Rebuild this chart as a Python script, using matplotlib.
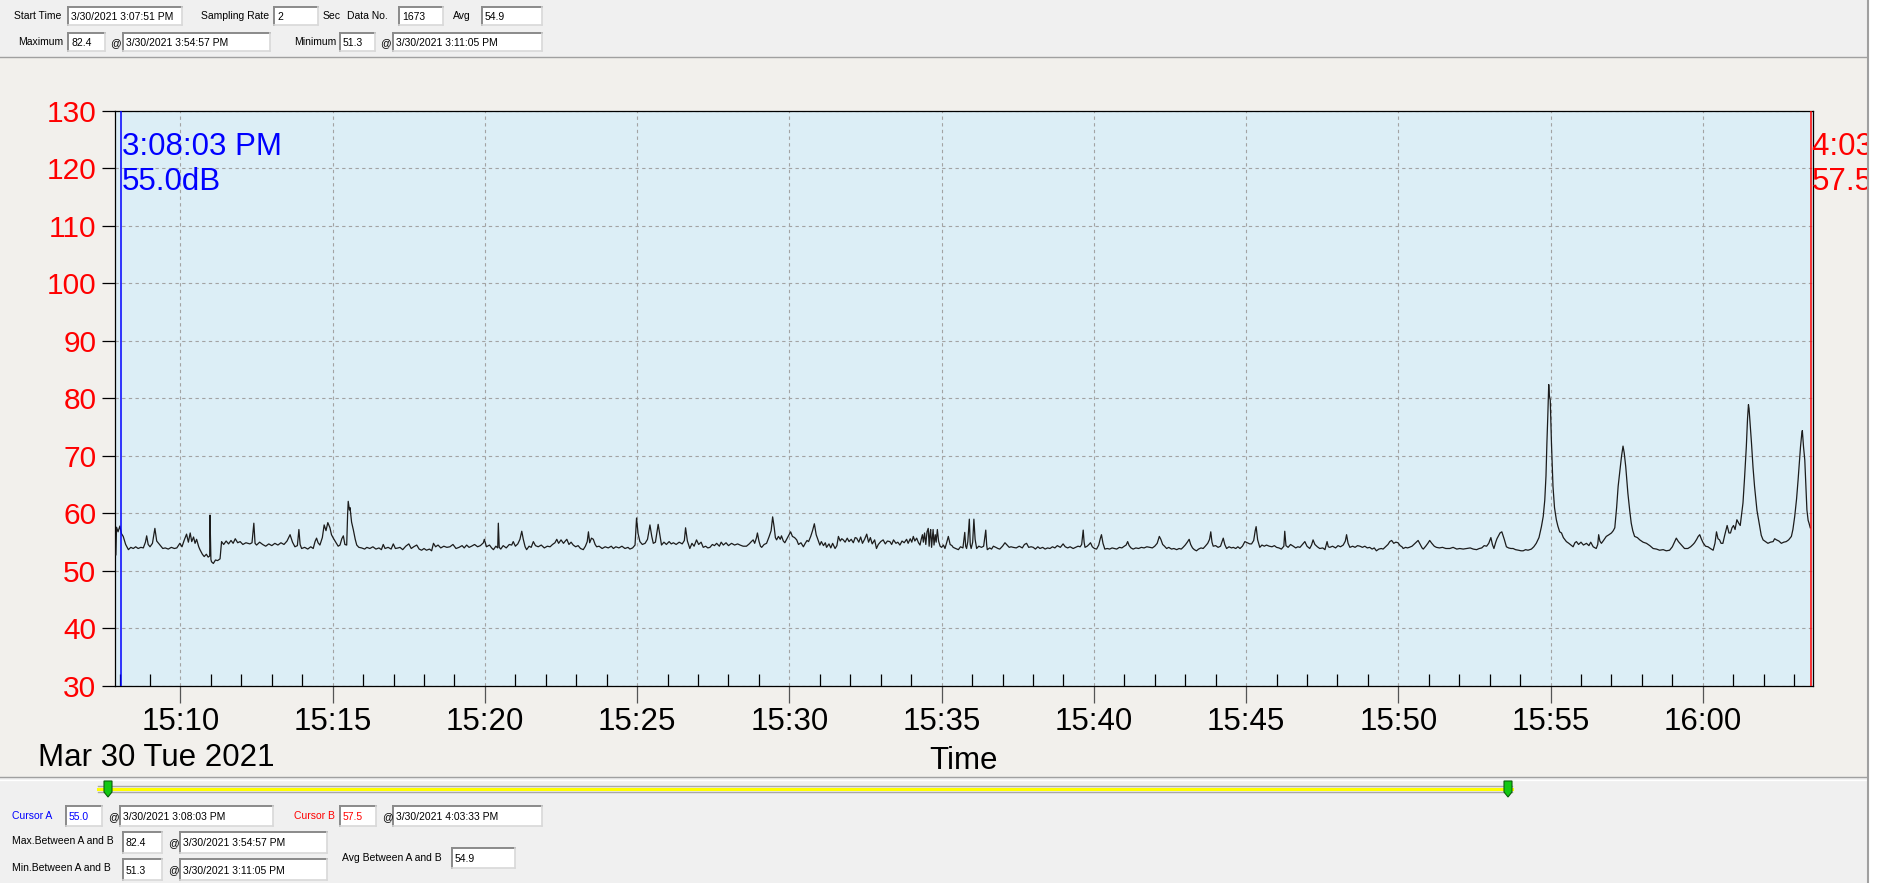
import matplotlib
matplotlib.use("Agg")
import matplotlib.pyplot as plt
from matplotlib.patches import Rectangle, Polygon
from matplotlib.lines import Line2D

plt.rcParams['font.family'] = ['Liberation Sans', 'DejaVu Sans']

W, H = 1879, 883

# sound level trace: (minutes after 15:00, dB)
seg_1508 = [
    (7.88, 52.8), (7.90, 57.6), (7.95, 56.8), (8.01, 57.8), (8.06, 56.5), (8.12, 56.0),
    (8.20, 54.6), (8.29, 53.7), (8.37, 54.1), (8.45, 53.9), (8.53, 54.2), (8.61, 53.9),
    (8.70, 54.1), (8.78, 54.0), (8.85, 55.0), (8.89, 56.1), (8.94, 54.6), (9.00, 54.2),
    (9.08, 54.8), (9.16, 57.4), (9.22, 55.2), (9.33, 54.5), (9.42, 53.9), (9.50, 54.0),
    (9.60, 53.8), (9.70, 54.1), (9.80, 53.9), (9.88, 54.0), (9.98, 54.8), (10.05, 54.2),
    (10.12, 55.3), (10.20, 56.4), (10.26, 55.0), (10.32, 56.6), (10.37, 55.1), (10.43, 55.9),
    (10.48, 54.8), (10.53, 55.5), (10.60, 54.2), (10.64, 53.7), (10.72, 52.9), (10.78, 52.5),
    (10.85, 52.9), (10.91, 52.4), (10.96, 52.6), (10.97, 59.7), (11.00, 52.0), (11.02, 51.6),
    (11.08, 51.3), (11.15, 51.9), (11.22, 51.8), (11.30, 52.1), (11.35, 55.1), (11.42, 54.6),
    (11.50, 55.2), (11.58, 54.7), (11.66, 55.3), (11.73, 54.8), (11.80, 55.6), (11.88, 54.9),
    (11.96, 55.1), (12.05, 54.6), (12.15, 54.9), (12.28, 54.7), (12.35, 54.9), (12.41, 58.3),
    (12.45, 54.8), (12.50, 54.5), (12.60, 55.0), (12.70, 54.6), (12.80, 54.3), (12.90, 54.7),
    (13.00, 54.4), (13.10, 54.8), (13.20, 54.5), (13.30, 54.9), (13.40, 54.6), (13.50, 55.2),
    (13.60, 56.3), (13.68, 55.0), (13.76, 54.2), (13.84, 54.4), (13.89, 57.2), (13.93, 54.6),
    (13.98, 53.9), (14.08, 54.1), (14.18, 53.8), (14.28, 54.2), (14.36, 53.9), (14.42, 55.1),
    (14.47, 55.7), (14.52, 54.9), (14.58, 54.5), (14.66, 55.8), (14.72, 58.0), (14.78, 57.0),
    (14.84, 58.4), (14.91, 57.5), (14.96, 56.3), (15.02, 55.7), (15.10, 55.0), (15.18, 54.3),
    (15.24, 54.5), (15.30, 55.6), (15.35, 56.1), (15.40, 54.6), (15.46, 54.5), (15.49, 59.8),
    (15.51, 62.1), (15.55, 60.6), (15.57, 61.0), (15.62, 58.5), (15.68, 57.1), (15.74, 55.5),
    (15.79, 54.5), (15.86, 54.1),
]
seg_1516 = [
    (15.95, 54.0), (16.05, 53.8), (16.12, 54.1), (16.22, 53.9), (16.32, 54.2), (16.42, 53.8),
    (16.52, 54.0), (16.60, 53.7), (16.66, 54.6), (16.72, 53.9), (16.82, 54.1), (16.92, 53.8),
    (16.99, 54.7), (17.06, 53.9), (17.15, 54.0), (17.21, 54.1), (17.30, 53.7), (17.40, 54.3),
    (17.50, 54.7), (17.58, 53.9), (17.66, 54.2), (17.76, 54.5), (17.84, 53.8), (17.92, 53.6),
    (18.00, 53.9), (18.08, 53.6), (18.18, 53.8), (18.25, 53.5), (18.31, 54.8), (18.38, 54.2),
    (18.46, 54.5), (18.55, 54.0), (18.65, 54.3), (18.75, 54.1), (18.85, 54.2), (18.95, 54.6),
    (19.05, 53.9), (19.15, 54.1), (19.25, 54.4), (19.32, 54.0), (19.40, 54.5), (19.48, 54.1),
    (19.56, 54.3), (19.66, 54.6), (19.76, 54.2), (19.85, 54.4), (19.95, 54.9), (19.98, 55.5),
    (20.05, 54.2), (20.15, 54.5), (20.22, 54.0), (20.28, 53.7), (20.36, 54.3), (20.42, 54.0),
    (20.44, 58.3), (20.47, 54.1), (20.52, 53.8), (20.60, 54.4), (20.70, 54.0), (20.80, 54.6),
    (20.88, 54.5), (20.93, 55.1), (21.00, 54.3), (21.08, 54.7), (21.15, 55.5), (21.21, 56.9),
    (21.26, 55.5), (21.32, 54.2), (21.37, 53.7), (21.45, 54.3), (21.52, 54.1), (21.59, 55.1),
    (21.66, 54.4), (21.75, 54.2), (21.85, 54.5), (21.95, 54.0), (22.05, 54.3), (22.14, 54.2),
    (22.22, 54.6), (22.30, 54.9), (22.36, 55.5), (22.42, 54.8), (22.50, 55.4), (22.58, 54.8),
    (22.64, 55.2), (22.69, 55.5), (22.76, 54.6), (22.83, 55.0), (22.90, 54.5), (22.98, 54.2),
    (23.06, 54.4), (23.14, 53.9), (23.23, 53.7), (23.30, 54.3), (23.36, 55.1), (23.40, 56.8),
    (23.44, 54.9), (23.50, 55.7), (23.56, 55.5),
]
seg_1524 = [
    (23.62, 54.6), (23.67, 54.2), (23.75, 54.3), (23.85, 53.9), (23.95, 54.2), (24.05, 54.0),
    (24.15, 54.3), (24.22, 53.9), (24.30, 54.2), (24.40, 54.0), (24.50, 54.3), (24.60, 53.9),
    (24.70, 54.1), (24.76, 53.8), (24.85, 54.0), (24.93, 54.5), (24.98, 59.2), (25.03, 56.5),
    (25.09, 55.1), (25.17, 54.6), (25.26, 54.8), (25.34, 55.5), (25.42, 58.0), (25.48, 56.0),
    (25.53, 54.8), (25.60, 55.0), (25.69, 58.1), (25.75, 56.2), (25.80, 54.5), (25.88, 55.0),
    (25.96, 54.6), (26.05, 55.1), (26.12, 54.7), (26.19, 54.9), (26.28, 54.6), (26.38, 55.0),
    (26.48, 54.7), (26.55, 55.3), (26.59, 57.5), (26.65, 55.2), (26.73, 53.9), (26.80, 54.8),
    (26.87, 54.3), (26.95, 55.4), (27.02, 54.6), (27.10, 55.0), (27.17, 54.1), (27.25, 54.3),
    (27.32, 54.0), (27.39, 54.1), (27.47, 54.6), (27.54, 54.4), (27.61, 54.8), (27.70, 54.3),
    (27.76, 55.0), (27.83, 54.5), (27.92, 54.9), (28.00, 54.4), (28.10, 54.8), (28.20, 54.5),
    (28.30, 54.7), (28.38, 54.5), (28.48, 54.3), (28.59, 54.3), (28.68, 54.7), (28.75, 55.1),
    (28.81, 55.4), (28.86, 54.8), (28.92, 55.8), (28.95, 56.6), (29.00, 55.2), (29.05, 54.3),
    (29.09, 54.1), (29.17, 54.6), (29.25, 54.8), (29.33, 55.9), (29.40, 57.0), (29.45, 59.4),
    (29.50, 57.6), (29.54, 55.8), (29.58, 55.4), (29.64, 56.0), (29.70, 55.5), (29.74, 56.1),
    (29.80, 55.2), (29.85, 54.9), (29.92, 55.6), (29.98, 56.2), (30.04, 56.8), (30.10, 56.0),
    (30.17, 55.8), (30.24, 55.4), (30.30, 54.6), (30.38, 54.9), (30.46, 54.2), (30.52, 54.8),
    (30.58, 55.3), (30.63, 55.1), (30.70, 56.0), (30.76, 57.0), (30.82, 58.2), (30.88, 56.3),
    (30.94, 55.4), (31.00, 54.5), (31.05, 55.1), (31.12, 54.4), (31.18, 54.9), (31.22, 54.1),
    (31.30, 54.7), (31.36, 54.0), (31.42, 54.8), (31.50, 53.9), (31.56, 54.4), (31.61, 56.0),
    (31.67, 55.2), (31.72, 55.6), (31.77, 55.4), (31.83, 55.0), (31.90, 55.7), (31.96, 55.1),
    (32.03, 55.5), (32.10, 54.9), (32.16, 55.8), (32.21, 55.7), (32.28, 55.0), (32.34, 55.9),
    (32.40, 54.8), (32.47, 55.5), (32.54, 56.4), (32.60, 55.0), (32.66, 55.8), (32.72, 54.7),
    (32.80, 55.4), (32.86, 53.9), (32.92, 54.6), (33.00, 55.1), (33.08, 55.4), (33.15, 54.7),
    (33.22, 55.2), (33.30, 55.1), (33.36, 54.6), (33.42, 55.4), (33.50, 54.8), (33.56, 55.0),
    (33.63, 54.5), (33.70, 55.2), (33.77, 54.9), (33.85, 55.5), (33.90, 54.8),
]
seg_1534 = [
    (33.97, 55.6), (34.02, 55.0), (34.07, 56.0), (34.12, 55.2), (34.18, 55.7), (34.24, 54.9),
    (34.29, 54.5), (34.33, 55.5), (34.37, 56.3), (34.40, 55.0), (34.44, 56.6), (34.48, 54.6),
    (34.52, 56.8), (34.56, 57.4), (34.59, 54.3), (34.62, 56.5), (34.64, 57.2), (34.67, 54.1),
    (34.70, 56.0), (34.72, 57.2), (34.75, 54.5), (34.79, 56.3), (34.82, 55.0), (34.86, 57.2),
    (34.90, 55.2), (34.95, 54.3), (35.00, 54.1), (35.06, 54.5), (35.11, 53.9), (35.17, 55.0),
    (35.22, 56.0), (35.28, 54.6), (35.34, 54.4), (35.38, 54.1), (35.46, 53.9), (35.55, 53.7),
    (35.62, 54.2), (35.70, 54.0), (35.76, 56.7), (35.79, 54.3), (35.82, 53.9), (35.86, 55.1),
    (35.91, 59.0), (35.94, 54.6), (35.97, 53.9), (36.02, 55.0), (36.06, 59.0), (36.10, 55.5),
    (36.15, 53.9), (36.22, 54.3), (36.31, 54.1), (36.38, 54.3), (36.45, 57.1), (36.48, 54.5),
    (36.50, 53.7), (36.58, 54.0), (36.64, 53.8), (36.70, 54.3), (36.78, 54.1), (36.85, 53.9),
    (36.91, 53.8), (37.00, 54.3), (37.08, 54.9), (37.15, 54.5), (37.22, 54.1), (37.28, 54.2),
    (37.35, 54.1), (37.45, 54.0), (37.55, 54.3), (37.65, 54.0), (37.72, 54.6), (37.79, 54.8),
    (37.86, 54.1), (37.94, 54.2), (38.01, 54.1), (38.08, 53.8), (38.16, 54.2), (38.23, 53.9),
    (38.32, 54.1), (38.40, 53.8), (38.48, 54.0), (38.56, 53.9), (38.64, 54.2), (38.72, 54.0),
    (38.80, 54.4), (38.90, 54.1), (38.99, 54.7), (39.06, 54.2), (39.14, 54.0), (39.22, 54.2),
    (39.32, 53.9), (39.40, 54.1), (39.48, 54.3), (39.55, 54.2), (39.60, 54.6), (39.65, 57.1),
    (39.68, 55.0), (39.71, 54.1), (39.78, 54.3), (39.84, 54.6), (39.89, 54.9), (39.95, 54.2),
    (40.02, 53.9), (40.09, 53.8), (40.16, 54.5), (40.21, 55.6), (40.25, 56.3), (40.30, 54.8),
    (40.36, 53.8), (40.44, 53.9), (40.52, 53.8), (40.60, 54.0), (40.68, 53.9), (40.75, 53.8),
    (40.84, 54.1), (40.92, 54.0), (41.00, 54.3), (41.06, 54.5), (41.11, 55.1), (41.16, 54.4),
    (41.22, 54.0), (41.29, 53.8), (41.38, 54.0), (41.47, 53.9), (41.56, 54.1), (41.65, 54.0),
    (41.74, 54.2), (41.84, 54.1), (41.92, 54.0), (42.00, 54.3), (42.08, 54.8), (42.15, 56.0),
    (42.20, 55.5), (42.26, 54.6), (42.32, 54.3), (42.39, 53.9), (42.46, 54.1), (42.55, 53.8),
    (42.63, 53.9), (42.72, 53.7), (42.80, 53.9), (42.87, 53.8), (42.93, 54.1), (43.00, 54.5),
    (43.07, 55.0), (43.13, 55.5), (43.18, 54.6), (43.24, 54.0), (43.30, 53.7), (43.37, 53.5),
    (43.44, 53.8), (43.52, 54.0), (43.59, 53.9), (43.66, 54.3), (43.74, 54.8), (43.80, 55.5),
    (43.84, 56.8), (43.88, 55.0),
]
seg_1544 = [
    (43.92, 54.3), (44.00, 54.4), (44.08, 54.1), (44.16, 54.3), (44.25, 55.7), (44.30, 54.6),
    (44.36, 53.9), (44.44, 54.2), (44.52, 54.0), (44.58, 54.1), (44.66, 53.9), (44.73, 54.2),
    (44.80, 53.9), (44.88, 54.3), (44.96, 55.1), (45.04, 54.9), (45.12, 54.7), (45.18, 54.7),
    (45.25, 55.3), (45.30, 57.0), (45.33, 57.7), (45.38, 55.4), (45.45, 54.1), (45.52, 54.5),
    (45.60, 54.3), (45.67, 54.5), (45.76, 54.3), (45.85, 54.2), (45.93, 54.4), (46.00, 54.1),
    (46.08, 54.0), (46.16, 53.8), (46.24, 54.3), (46.27, 56.9), (46.31, 54.4), (46.38, 54.1),
    (46.46, 54.6), (46.55, 54.3), (46.63, 54.0), (46.70, 54.2), (46.77, 54.1), (46.85, 54.6),
    (46.93, 55.1), (47.00, 54.3), (47.09, 53.9), (47.15, 54.5), (47.20, 55.4), (47.26, 54.6),
    (47.34, 54.2), (47.42, 53.9), (47.52, 54.0), (47.59, 53.7), (47.66, 55.1), (47.70, 54.2),
    (47.75, 54.1), (47.84, 54.3), (47.94, 54.0), (48.02, 54.4), (48.10, 54.2), (48.19, 54.5),
    (48.26, 55.2), (48.30, 56.3), (48.35, 54.8), (48.41, 54.1), (48.50, 54.3), (48.58, 54.1),
    (48.66, 54.4), (48.74, 54.3), (48.82, 54.1), (48.90, 54.3), (48.98, 54.0), (49.06, 54.1),
    (49.14, 53.8), (49.21, 54.0), (49.28, 53.5), (49.36, 53.8), (49.44, 53.9), (49.50, 53.8),
    (49.58, 54.2), (49.66, 54.6), (49.72, 55.1), (49.78, 55.3), (49.85, 54.8), (49.92, 55.0),
    (49.99, 54.9), (50.06, 54.4), (50.12, 54.2), (50.16, 53.9), (50.24, 54.1), (50.30, 54.0),
    (50.36, 54.1), (50.45, 54.3), (50.55, 54.8), (50.65, 55.3), (50.72, 54.6), (50.78, 54.0),
    (50.82, 53.8), (50.90, 54.3), (50.97, 54.8), (51.03, 55.3), (51.10, 54.8), (51.18, 54.3),
    (51.25, 54.1), (51.35, 54.0), (51.45, 54.1), (51.56, 53.9), (51.69, 53.9), (51.80, 54.1),
    (51.92, 53.8), (52.02, 53.9), (52.13, 53.8), (52.25, 53.9), (52.36, 54.0), (52.46, 53.8),
    (52.57, 53.7), (52.66, 53.9), (52.74, 54.0), (52.82, 54.4), (52.90, 54.3), (52.97, 54.8),
    (53.04, 55.8), (53.09, 54.6), (53.14, 53.9), (53.20, 55.0), (53.24, 55.6), (53.28, 56.0),
    (53.34, 56.6), (53.40, 56.8), (53.48, 55.5), (53.55, 54.2),
]
seg_1554 = [
    (53.62, 54.0), (53.70, 53.9), (53.77, 53.9), (53.85, 53.7), (53.95, 53.6), (54.03, 53.5),
    (54.10, 53.5), (54.18, 53.7), (54.26, 53.6), (54.37, 53.8), (54.45, 54.2), (54.53, 54.8),
    (54.62, 55.8), (54.70, 57.7), (54.76, 59.5), (54.81, 62.3), (54.85, 66.5), (54.88, 72.2),
    (54.91, 77.0), (54.94, 82.4), (54.96, 80.5), (54.99, 79.7), (55.01, 76.0), (55.03, 72.2),
    (55.06, 68.0), (55.08, 64.7), (55.13, 61.0), (55.19, 58.9), (55.24, 57.8), (55.30, 56.8),
    (55.36, 56.6), (55.42, 55.8), (55.52, 55.1), (55.60, 54.8), (55.67, 54.5), (55.74, 54.2),
    (55.80, 54.9), (55.85, 55.1), (55.92, 54.6), (56.00, 55.0), (56.08, 54.5), (56.18, 54.8),
    (56.26, 54.4), (56.32, 55.0), (56.40, 54.2), (56.50, 53.9), (56.55, 54.6), (56.58, 56.3),
    (56.62, 55.2), (56.67, 54.8), (56.74, 55.3), (56.83, 56.0), (56.92, 56.3), (57.00, 56.6),
    (57.06, 57.0), (57.11, 57.5), (57.17, 61.0), (57.22, 64.7), (57.28, 67.5), (57.33, 69.9),
    (57.38, 71.7), (57.42, 70.5), (57.47, 68.1), (57.54, 63.5), (57.60, 60.5), (57.65, 58.3),
    (57.70, 57.0), (57.76, 56.0), (57.85, 55.8), (57.93, 55.4), (58.04, 55.0), (58.15, 54.8),
    (58.26, 54.4), (58.37, 53.9), (58.48, 53.8), (58.58, 53.6), (58.70, 53.7), (58.80, 53.5),
    (58.91, 53.6), (59.00, 54.2), (59.07, 55.0), (59.13, 55.7), (59.20, 55.1), (59.30, 54.5),
    (59.40, 53.9), (59.51, 53.9), (59.60, 54.2), (59.68, 54.6), (59.73, 54.9), (59.80, 55.5),
    (59.85, 56.0), (59.90, 56.3), (59.95, 55.6), (60.01, 54.9), (60.09, 54.3), (60.17, 54.2),
    (60.25, 53.9), (60.34, 53.6), (60.40, 54.8), (60.45, 56.8), (60.50, 55.6), (60.55, 55.4),
    (60.60, 54.8), (60.66, 54.8), (60.72, 56.2), (60.80, 57.9), (60.86, 56.6), (60.91, 56.6),
    (60.96, 57.5), (61.01, 57.9), (61.06, 57.2), (61.12, 58.9), (61.18, 58.3), (61.23, 57.9),
    (61.28, 60.0), (61.32, 61.8), (61.37, 66.0), (61.43, 71.6), (61.47, 76.5), (61.50, 78.9),
    (61.52, 78.2), (61.55, 76.0), (61.60, 72.2), (61.65, 68.0), (61.70, 64.7), (61.78, 60.5),
    (61.87, 57.7), (61.92, 56.2), (61.98, 55.4), (62.06, 55.1), (62.14, 54.8), (62.22, 55.0),
    (62.31, 55.1), (62.36, 55.6), (62.42, 55.4), (62.50, 55.2), (62.58, 54.8), (62.66, 55.0),
    (62.74, 55.1), (62.82, 55.4), (62.91, 56.0), (62.96, 57.2), (63.02, 59.5), (63.08, 62.5),
    (63.13, 65.8), (63.18, 69.5), (63.21, 71.6), (63.25, 73.8), (63.27, 74.4), (63.31, 71.5),
    (63.35, 69.3), (63.39, 64.5), (63.42, 60.6), (63.46, 58.8), (63.49, 58.3), (63.53, 57.5),
]

x_start, x_end = 7.85, 63.62          # 15:07:51 .. 16:03:37
y_ticks = [30, 40, 50, 60, 70, 80, 90, 100, 110, 120, 130]
x_major = [10, 15, 20, 25, 30, 35, 40, 45, 50, 55, 60]
x_labels = ["15:10", "15:15", "15:20", "15:25", "15:30", "15:35",
            "15:40", "15:45", "15:50", "15:55", "16:00"]
x_minor = list(range(8, 64))
date_label = "Mar 30 Tue 2021"

cursor_a, cursor_b = 8.05, 63.55      # 3:08:03 PM, 4:03:33 PM
cursor_a_lines = ["3:08:03 PM", "55.0dB"]
cursor_b_lines = ["4:03:33 PM", "57.5dB"]

start_time = "3/30/2021 3:07:51 PM"
sampling_rate = "2"
data_no = "1673"
avg_level = "54.9"
max_level, max_time = "82.4", "3/30/2021 3:54:57 PM"
min_level, min_time = "51.3", "3/30/2021 3:11:05 PM"
cur_a_level, cur_a_time = "55.0", "3/30/2021 3:08:03 PM"
cur_b_level, cur_b_time = "57.5", "3/30/2021 4:03:33 PM"


fig = plt.figure(figsize=(W / 100, H / 100), dpi=100)
fig.patch.set_facecolor('#F0F0F0')


def frect(x0, y0, x1, y1, **kw):
    fig.add_artist(Rectangle((x0 / W, 1 - y1 / H), (x1 - x0) / W, (y1 - y0) / H,
                             transform=fig.transFigure, **kw))


def fline(x0, y0, x1, y1, color, lw=1.0, z=2):
    fig.add_artist(Line2D([x0 / W, x1 / W], [1 - y0 / H, 1 - y1 / H],
                          transform=fig.transFigure, color=color, lw=lw, zorder=z))


def ftext(x, y, s, color='black', size=7.5, **kw):
    fig.text(x / W, 1 - y / H, s, color=color, fontsize=size, va='center', **kw)


def field(x0, y0, x1, y1, value, color='black'):
    frect(x0, y0, x1, y1, facecolor='white', edgecolor='none', zorder=1)
    fline(x0, y0, x1, y0, '#8A8A8A', 1.4)
    fline(x0, y0, x0, y1, '#8A8A8A', 1.4)
    fline(x0, y1, x1, y1, '#D8D8D8', 1.2)
    fline(x1, y0, x1, y1, '#D8D8D8', 1.2)
    ftext(x0 + 3, (y0 + y1) / 2 + 1, value, color=color)


# chart panel background
frect(0, 57, 1868, 777, facecolor='#F2F0EC', edgecolor='none', zorder=-5)
fline(0, 57, 1868, 57, '#A0A0A0', 1.0)
fline(0, 777, 1868, 777, '#A0A0A0', 1.0)
fline(0, 780, 1868, 780, '#FFFFFF', 1.0)

# top info panel
ftext(14, 16, "Start Time")
field(68, 7, 182, 25, start_time)
ftext(201, 16, "Sampling Rate")
field(274, 7, 318, 25, sampling_rate)
ftext(323, 16, "Sec")
ftext(347, 16, "Data No.")
field(399, 7, 443, 25, data_no)
ftext(453, 16, "Avg")
field(482, 7, 542, 25, avg_level)
ftext(18, 42, "Maximum")
field(68, 33, 105, 51, max_level)
ftext(110, 43, "@")
field(123, 33, 270, 51, max_time)
ftext(294, 42, "Minimum")
field(340, 33, 375, 51, min_level)
ftext(380, 43, "@")
field(393, 33, 542, 51, min_time)

# slider
fline(98, 786, 1512, 786, '#A8A8A8', 1.0)
fline(98, 789, 1512, 789, '#FFFF00', 2.2)
fline(98, 792, 1512, 792, '#A8A8A8', 1.0)
for cx in (108, 1508):
    fig.add_artist(Polygon([((cx - 4) / W, 1 - 781 / H), ((cx + 4) / W, 1 - 781 / H),
                            ((cx + 4) / W, 1 - 792 / H), (cx / W, 1 - 797 / H),
                            ((cx - 4) / W, 1 - 792 / H)], closed=True,
                           transform=fig.transFigure, facecolor='#12C812',
                           edgecolor='#0A600A', lw=0.8, zorder=3))

# bottom cursor panel
ftext(12, 816, "Cursor A", color='#0000FF')
field(66, 806, 102, 826, cur_a_level, color='#0000FF')
ftext(108, 817, "@")
field(120, 806, 273, 826, cur_a_time)
ftext(294, 816, "Cursor B", color='#FF0000')
field(340, 806, 376, 826, cur_b_level, color='#FF0000')
ftext(382, 817, "@")
field(393, 806, 542, 826, cur_b_time)
ftext(12, 841, "Max.Between A and B")
field(123, 832, 162, 853, max_level)
ftext(168, 843, "@")
field(180, 832, 327, 853, max_time)
ftext(12, 868, "Min.Between A and B")
field(123, 859, 162, 880, min_level)
ftext(168, 870, "@")
field(180, 859, 327, 880, min_time)
ftext(342, 858, "Avg Between A and B")
field(452, 848, 515, 868, avg_level)

# main chart
ax = fig.add_axes([115 / W, 1 - 686 / H, (1813 - 115) / W, (686 - 110.7) / H])
ax.set_facecolor('#DCEEF6')

times = [t for t, _ in seg_1508 + seg_1516 + seg_1524 + seg_1534 + seg_1544 + seg_1554]
levels = [v for _, v in seg_1508 + seg_1516 + seg_1524 + seg_1534 + seg_1544 + seg_1554]
ax.plot(times, levels, color='#1c1c1c', lw=0.9, zorder=3)

ax.set_xlim(x_start, x_end)
ax.set_ylim(30, 130)
ax.set_yticks(y_ticks)
ax.set_yticklabels([str(v) for v in y_ticks])
ax.set_xticks(x_major)
ax.set_xticklabels(x_labels)
ax.set_xticks(x_minor, minor=True)
ax.tick_params(axis='y', direction='out', length=9.4, width=0.9, pad=4,
               labelsize=21.5, labelcolor='#FF0000', color='black')
ax.tick_params(axis='x', which='major', direction='out', length=12.2, width=0.9,
               pad=3, labelsize=22.5, color='#555555')
ax.tick_params(axis='x', which='minor', direction='in', length=8.6, width=0.9, color='black')
ax.grid(True, which='major', color='#A3A3A3', ls=(0, (3, 3)), lw=0.8)
ax.set_axisbelow(True)
for sp in ax.spines.values():
    sp.set_color('black')
    sp.set_linewidth(0.9)

ax.set_xlabel("Time", fontsize=22.5)
ax.xaxis.set_label_coords(0.5, -0.104)
ftext(38, 758, date_label, size=22.5)

ax.axvline(cursor_a, color='#0000FF', lw=1.1, zorder=4)
ax.axvline(cursor_b, color='#FF0000', lw=1.1, zorder=4)
for i, s in enumerate(cursor_a_lines):
    ax.annotate(s, xy=(cursor_a, 130), xycoords='data', xytext=(0.8, -32 - 25.2 * i),
                textcoords='offset points', color='#0000FF', fontsize=22.5,
                va='baseline', ha='left', annotation_clip=False)
for i, s in enumerate(cursor_b_lines):
    ax.annotate(s, xy=(cursor_b, 130), xycoords='data', xytext=(0.8, -32 - 25.2 * i),
                textcoords='offset points', color='#FF0000', fontsize=22.5,
                va='baseline', ha='left', annotation_clip=False)

# right window edge (clips cursor B text like the original window does)
frect(1868, 0, 1879, 883, facecolor='white', edgecolor='none', zorder=20)
fline(1868, 0, 1868, 883, '#A0A0A0', 1.5, z=21)

fig.savefig("out.png", dpi=100)
